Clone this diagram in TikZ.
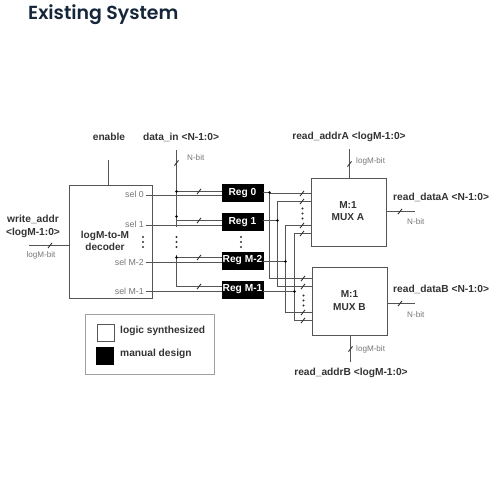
\documentclass[tikz,border=0pt]{standalone}
\usepackage{fontspec}
\setmainfont{Liberation Sans}
\newfontfamily\titlefont{Poppins}[BoldFont={Poppins SemiBold}]
\definecolor{wire}{HTML}{555555}
\definecolor{ink}{HTML}{333333}
\definecolor{soft}{HTML}{777777}
\definecolor{titleink}{HTML}{16263A}
\newcommand{\tick}[2]{\draw[ink,line width=0.9pt] (#1-2,#2+2.6) -- (#1+2,#2-2.6);}
\newcommand{\hdots}[2]{\foreach \k in {0,5,10} \fill[ink] (#1,#2+\k) circle (1.2);}
\tikzset{
  x=1pt,y=-1pt,
  wireline/.style={draw=wire,line width=1.05pt},
  blockbox/.style={draw=wire,line width=1.1pt,fill=white,inner sep=0,anchor=north west},
  blocktext/.style={inner sep=0,align=center,font=\fontsize{10.1}{12.2}\selectfont\bfseries,text=ink},
  regbox/.style={draw=black,fill=black,text=white,inner sep=0,minimum width=41,minimum height=17,font=\fontsize{10.2}{10}\selectfont\bfseries},
  lab/.style={inner sep=0,text=ink,font=\fontsize{10.2}{13}\selectfont\bfseries,align=center},
  sellab/.style={inner sep=0,text=soft,font=\fontsize{8.8}{9}\selectfont,anchor=mid east},
  bitlab/.style={inner sep=0,text=soft,font=\fontsize{8.1}{8}\selectfont,anchor=mid west},
  jdot/.style={circle,fill=black,inner sep=0,minimum size=2.8},
}
\begin{document}
\begin{tikzpicture}
\useasboundingbox (0,0) rectangle (500,500);
\node[inner sep=0,anchor=base west,text=titleink,font=\titlefont\fontsize{18.9}{20}\selectfont\bfseries] (title) at (28,20) {Existing System};

% blocks
\node[blockbox,minimum width=83,minimum height=113] (dec) at (68.5,184.5) {};
\node[blockbox,minimum width=75,minimum height=68] (muxa) at (310.5,178) {};
\node[blockbox,minimum width=75.5,minimum height=68] (muxb) at (311.5,267) {};
\node[blocktext] (dect) at (105,241) {logM-to-M\\decoder};
\node[blocktext] (muxat) at (348,211) {M:1\\MUX A};
\node[blocktext] (muxbt) at (349.5,300.5) {M:1\\MUX B};
\node[regbox] (r0) at (242.5,193) {Reg 0};
\node[regbox] (r1) at (242.5,221.7) {Reg 1};
\node[regbox] (r2) at (242.5,260.5) {Reg M-2};
\node[regbox] (r3) at (242.5,289.5) {Reg M-1};

% labels
\node[lab] (enlab) at (109,137) {enable};
\node[lab] (dinlab) at (181,137) {data\_in <N-1:0>};
\node[lab] (ralab) at (349,137) {read\_addrA <logM-1:0>};
\node[lab] (rblab) at (351,373) {read\_addrB <logM-1:0>};
\node[lab] (wlab) at (33,226.5) {write\_addr\\<logM-1:0>};
\node[lab,anchor=mid west] (dalab) at (393,198) {read\_dataA <N-1:0>};
\node[lab,anchor=mid west] (dblab) at (393,290) {read\_dataB <N-1:0>};
\node[sellab] (s0l) at (144,195) {sel 0};
\node[sellab] (s1l) at (144,225) {sel 1};
\node[sellab] (s2l) at (144,262.5) {sel M-2};
\node[sellab] (s3l) at (144,291.5) {sel M-1};
\node[bitlab] (b1) at (187,158) {N-bit};
\node[bitlab] (b2) at (356,161) {logM-bit};
\node[bitlab] (b3) at (356,349) {logM-bit};
\node[bitlab] (b4) at (407,222) {N-bit};
\node[bitlab] (b5) at (407,315) {N-bit};
\node[bitlab,anchor=center] (b6) at (41,255) {logM-bit};

% free ends
\coordinate (entop) at (108.5,160);
\coordinate (dtop) at (176.5,150);
\coordinate (d0) at (176.5,191.5);
\coordinate (d1) at (176.5,216.5);
\coordinate (d1e) at (176.5,227);
\coordinate (d2) at (176.5,257.5);
\coordinate (d2s) at (176.5,255);
\coordinate (d3) at (176.5,286.5);
\coordinate (s0) at (146,195.5);
\coordinate (s1) at (146,225.5);
\coordinate (s2) at (146,262.5);
\coordinate (s3) at (146,291.5);
\coordinate (wstart) at (29,245.5);
\coordinate (dataAe) at (415,211.5);
\coordinate (dataBe) at (415,303.5);
\coordinate (ratop) at (349.5,149);
\coordinate (rbbot) at (350.5,362);

% input wires
\draw[wireline] (entop) -- (entop |- dec.north);
\draw[wireline] (wstart) -- (wstart -| dec.west);
\draw[wireline] (s0) -- (s0 -| r0.west);
\draw[wireline] (s1) -- (s1 -| r1.west);
\draw[wireline] (s2) -- (s2 -| r2.west);
\draw[wireline] (s3) -- (s3 -| r3.west);
\draw[wireline] (dtop) -- (d1e);
\draw[wireline] (d2s) -- (d3) -- (d3 -| r3.west);
\draw[wireline] (d0) -- (d0 -| r0.west);
\draw[wireline] (d1) -- (176.5,220.5) -- (r1.west |- 0,220.5);
\draw[wireline] (d2) -- (d2 -| r2.west);

% register outputs
\coordinate (v0) at (269.5,192.5);
\coordinate (v1) at (277.5,220.5);
\coordinate (v2) at (285.5,261.5);
\coordinate (v3) at (294.5,291.5);
\draw[wireline] (r0.east |- v0) -- (v0);
\draw[wireline] (r1.east |- v1) -- (v1);
\draw[wireline] (r2.east |- v2) -- (v2);
\draw[wireline] (r3.east |- v3) -- (v3);
% mux inputs
\draw[wireline] (v0) -- (269.5,193.5) -- (muxa.west |- 0,193.5);
\draw[wireline] (muxa.west |- 0,201.5) -- (277.5,201.5) -- (277.5,286.5) -- (muxb.west |- 0,286.5);
\draw[wireline] (muxa.west |- 0,225.5) -- (285.5,225.5) -- (285.5,312.5) -- (muxb.west |- 0,312.5);
\draw[wireline] (muxa.west |- 0,233.5) -- (294.5,233.5) -- (294.5,320.5) -- (muxb.west |- 0,320.5);
\draw[wireline] (v0) -- (269.5,278.5) -- (muxb.west |- 0,278.5);
% mux control and outputs
\draw[wireline] (ratop) -- (ratop |- muxa.north);
\draw[wireline] (rbbot) -- (rbbot |- muxb.south);
\draw[wireline] (muxa.east |- dataAe) -- (dataAe);
\draw[wireline] (muxb.east |- dataBe) -- (dataBe);

% junctions
\foreach \c in {d0,d1,d2,v0,v1,v2,v3} \node[jdot] at (\c) {};

% bus ticks
\tick{176.5}{163}
\tick{199}{191.5}
\tick{199}{220.5}
\tick{199}{257.5}
\tick{199}{286.5}
\tick{50}{245.5}
\tick{302}{193.5}
\tick{302}{201.5}
\tick{302}{225.5}
\tick{302}{233.5}
\tick{303}{278.5}
\tick{303}{286.5}
\tick{303}{312.5}
\tick{303}{320.5}
\tick{349.5}{164}
\tick{350.5}{349}
\tick{400}{211.5}
\tick{400}{303.5}

% continuation dots
\hdots{143}{237}
\hdots{176.5}{237}
\hdots{241}{237}
\hdots{302.5}{208.5}
\hdots{303.5}{295.5}

% legend
\node[draw=soft!70,line width=0.9pt,fill=white,inner sep=0,minimum width=129,minimum height=60,anchor=north west] (legend) at (84.5,313.5) {};
\node[draw=wire,line width=1pt,fill=white,inner sep=0,minimum width=17,minimum height=17,anchor=north west] (swa) at (96.5,323.5) {};
\node[draw=black,fill=black,inner sep=0,minimum width=17,minimum height=17,anchor=north west] (swb) at (96,346.5) {};
\node[lab,anchor=mid west] (la) at (120,331) {logic synthesized};
\node[lab,anchor=mid west] (lb) at (120,354) {manual design};
\end{tikzpicture}
\end{document}
